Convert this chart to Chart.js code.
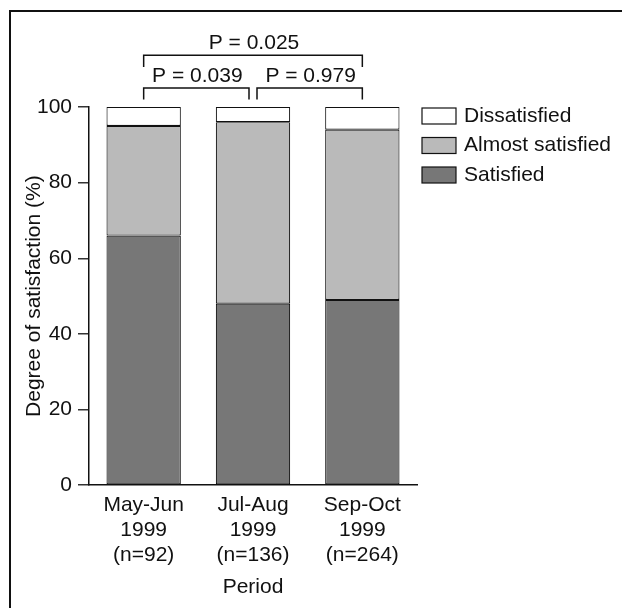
<!DOCTYPE html>
<html>
<head>
<meta charset="utf-8">
<script src="https://cdn.jsdelivr.net/npm/chart.js@4.4.1/dist/chart.umd.min.js"></script>
<style>
  body { margin: 0; background: #fff; overflow: hidden; }
  #wrap { position: relative; width: 622px; height: 608px; }
  #frame { position: absolute; left: 9px; top: 10px; width: 700px; height: 700px;
           border-left: 2px solid #111; border-top: 2px solid #111; pointer-events: none; }
</style>
</head>
<body>
<div id="wrap">
  <canvas id="chart" width="622" height="608"></canvas>
  <div id="frame"></div>
</div>
<script>
// periods (x categories)
var periods = [["May-Jun", "1999", "(n=92)"], ["Jul-Aug", "1999", "(n=136)"], ["Sep-Oct", "1999", "(n=264)"]];
// percentages per group, bottom to top
var satisfied = [66, 48, 49];
var almostSatisfied = [29, 48, 45];
var dissatisfied = [5, 4, 6];
var yTicks = [0, 20, 40, 60, 80, 100];
// comparisons drawn above the bars
var bracketFrom = [0, 1, 0];
var bracketTo = [1, 2, 2];
var bracketText = ["P = 0.039", "P = 0.979", "P = 0.025"];

var FONT = "'Liberation Sans', Arial, Helvetica, sans-serif";
Chart.defaults.font.family = FONT;
Chart.defaults.font.size = 21;
Chart.defaults.color = "#111";

//brackets with p values
var bracketPlugin = {
  id: "brackets",
  afterDraw: function(chart) {
    var ctx = chart.ctx;
    var xs = chart.scales.x, ys = chart.scales.y;
    var n = periods.length;
    ctx.save();
    ctx.strokeStyle = "#111";
    ctx.lineWidth = 1.5;
    ctx.fillStyle = "#111";
    ctx.font = "21px " + FONT;
    ctx.textAlign = "center";
    ctx.textBaseline = "middle";
    for (var i = 0; i < bracketFrom.length; i++) {
      var wide = (bracketTo[i] - bracketFrom[i]) > 1;
      var x1 = xs.getPixelForValue(bracketFrom[i]);
      var x2 = xs.getPixelForValue(bracketTo[i]);
      if (!wide) {
        if (bracketFrom[i] > 0) x1 += 4;
        if (bracketTo[i] < n - 1) x2 -= 4;
      }
      var yLeg = ys.getPixelForValue(wide ? 110.6 : 102);
      var yTop = ys.getPixelForValue(wide ? 113.7 : 105);
      var yTxt = ys.getPixelForValue(wide ? 116.8 : 108.2);
      ctx.beginPath();
      ctx.moveTo(x1, yLeg);
      ctx.lineTo(x1, yTop);
      ctx.lineTo(x2, yTop);
      ctx.lineTo(x2, yLeg);
      ctx.stroke();
      ctx.fillText(bracketText[i], (x1 + x2) / 2 + 1, yTxt);
    }
    ctx.restore();
  }
};

//legend on the right, top item = top of the stack
var legendPlugin = {
  id: "sideLegend",
  afterDraw: function(chart) {
    var ctx = chart.ctx;
    var sets = chart.data.datasets.slice().reverse();
    ctx.save();
    ctx.font = "21px " + FONT;
    ctx.textBaseline = "middle";
    ctx.textAlign = "left";
    sets.forEach(function(ds, i) {
      var y = 108 + i * 29.5;
      ctx.fillStyle = ds.backgroundColor;
      ctx.fillRect(422, y, 34, 16);
      ctx.strokeStyle = "#111";
      ctx.lineWidth = 1.2;
      ctx.strokeRect(422, y, 34, 16);
      ctx.fillStyle = "#111";
      ctx.fillText(ds.label, 464, y + 8);
    });
    ctx.restore();
  }
};

var barStyle = { borderColor: "#111", borderWidth: 1.1, borderSkipped: false,
                 categoryPercentage: 0.68, barPercentage: 1 };

var ctx = document.getElementById("chart").getContext("2d");
var chart = new Chart(ctx, {
  type: "bar",
  data: {
    labels: periods,
    datasets: [
      Object.assign({ label: "Satisfied", data: satisfied, backgroundColor: "#777777" }, barStyle),
      Object.assign({ label: "Almost satisfied", data: almostSatisfied, backgroundColor: "#bababa" }, barStyle),
      Object.assign({ label: "Dissatisfied", data: dissatisfied, backgroundColor: "#ffffff" }, barStyle)
    ]
  },
  options: {
    responsive: false,
    animation: false,
    layout: { padding: { left: 22, right: 205, top: 107, bottom: 2 } },
    plugins: { legend: { display: false }, tooltip: { enabled: false } },
    scales: {
      x: {
        stacked: true,
        grid: { display: false, drawTicks: false },
        border: { color: "#111", width: 1.5 },
        ticks: { padding: 7, maxRotation: 0, color: "#111" },
        title: { display: true, text: "Period", padding: { top: 0, bottom: 6 }, color: "#111" }
      },
      y: {
        stacked: true,
        min: 0,
        max: 100,
        afterBuildTicks: function(scale) {
          scale.ticks = yTicks.map(function(v) { return { value: v }; });
        },
        afterFit: function(scale) { scale.width = 67; },
        grid: { drawOnChartArea: false, tickLength: 11, color: "#333", lineWidth: 1.5 },
        border: { color: "#111", width: 1.5 },
        ticks: { padding: 6, color: "#111" },
        title: { display: true, text: "Degree of satisfaction (%)", padding: { top: 0, bottom: 0 }, color: "#111" }
      }
    }
  },
  plugins: [bracketPlugin, legendPlugin]
});
</script>
</body>
</html>
